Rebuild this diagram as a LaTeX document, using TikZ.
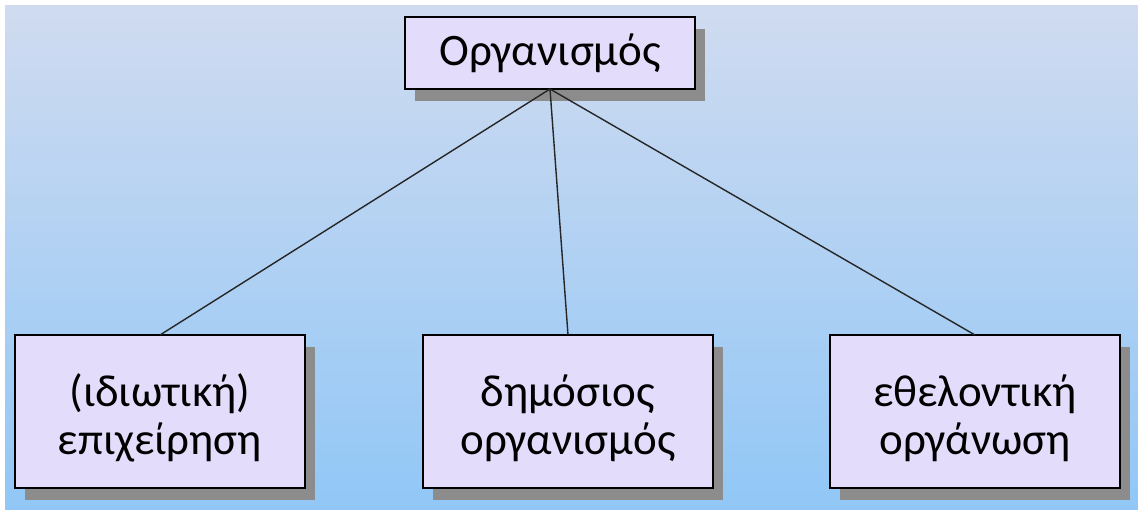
\documentclass[tikz,border=0pt]{standalone}
\usepackage{fontspec}
\setmainfont{Carlito}
\usepackage{tikz}
\usetikzlibrary{positioning}
\usetikzlibrary{shadows}
\definecolor{bgtop}{RGB}{208,219,240}
\definecolor{bgbottom}{RGB}{145,199,246}
\definecolor{boxfill}{RGB}{227,221,251}
\newcommand{\firstline}{\rule{0pt}{45pt}}
\begin{document}
\begin{tikzpicture}[x=1pt,y=1pt,node distance=246pt,
	every node/.style={inner sep=0,outer sep=0,font=\fontsize{45}{48}\selectfont},
	orgbox/.style={draw=black,line width=1.6pt,fill=boxfill,minimum width=290pt,align=center,
		drop shadow={shadow xshift=10pt,shadow yshift=-12pt,fill=black!45,opacity=1}},
	kind/.style={orgbox,minimum height=153pt}]
	% page and background
	\fill[white] (0,0) rectangle (1138,-509);
	\shade[top color=bgtop,bottom color=bgbottom] (5,-5) rectangle (1138,-509);
	\useasboundingbox (0,0) rectangle (1138,-509);
	\node (org) [orgbox,minimum height=72pt] at (550,-53) {Οργανισμός};
	\node (priv) [kind,below=of org,xshift=-390pt] {\firstline(ιδιωτική)\\επιχείρηση};
	\node (pub) [kind,below=of org,xshift=18pt] {\firstline δημόσιος\\οργανισμός};
	\node (vol) [kind,below=of org,xshift=425pt] {\firstline εθελοντική\\οργάνωση};
    \path[draw,line width=1.4pt,black!85]
        (org.south) -- (priv.north)
        (org.south) -- (pub.north)
        (org.south) -- (vol.north);
\end{tikzpicture}
\end{document}
